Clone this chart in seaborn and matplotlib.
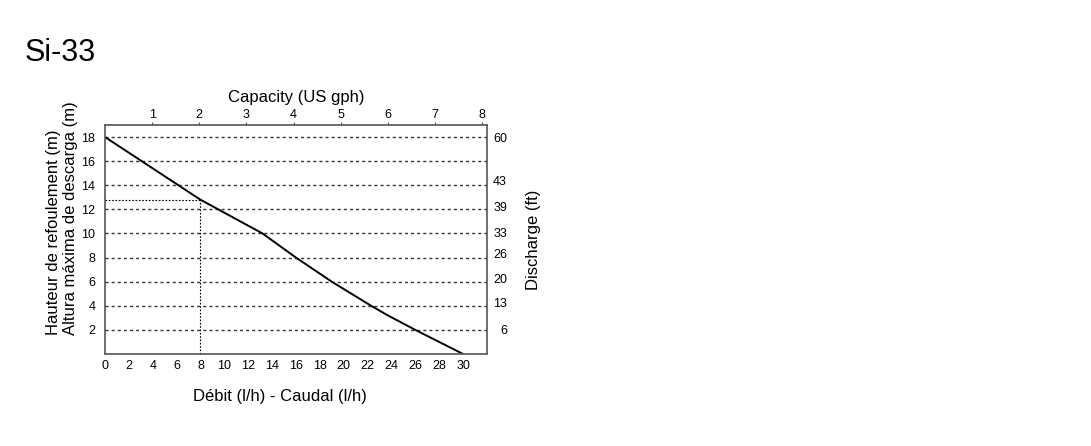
import matplotlib
matplotlib.use("Agg")
import matplotlib.pyplot as plt
import seaborn as sns
import pandas as pd

# valori
debit = [0, 8, 13.2, 16, 19, 22.3, 23.7, 26, 30]          # l/h
inaltime = [18, 12.8, 10, 8, 6, 4, 3.2, 2, 0]             # m
debit_ref = 8
inaltime_ref = 12.8

x_ticks = list(range(0, 31, 2))
y_ticks = list(range(2, 19, 2))
gph_ticks = [1, 2, 3, 4, 5, 6, 7, 8]
lh_per_gph = 3.95
ft_pozitii = [18, 14.4, 12.2, 10.1, 8.3, 6.3, 4.3, 2]
ft_etichete = ["60", "43", "39", "33", "26", "20", "13", "6"]

sns.set_style("white")
plt.rcParams["font.family"] = ["Liberation Sans", "DejaVu Sans"]
plt.rcParams["text.color"] = "black"
plt.rcParams["axes.labelcolor"] = "black"
plt.rcParams["xtick.color"] = "black"
plt.rcParams["ytick.color"] = "black"

t = pd.DataFrame({"debit": debit, "inaltime": inaltime})

fig = plt.figure(figsize=(10.91, 4.46), dpi=100)
ax = fig.add_axes([0.0962, 0.2063, 0.3501, 0.5135])

sns.lineplot(data=t, x="debit", y="inaltime", ax=ax, color="black",
             linewidth=1.4, sort=False)

ax.set_xlim(0, 32)
ax.set_ylim(0, 19)
ax.set_xticks(x_ticks)
ax.set_xticklabels([str(v) for v in x_ticks], fontsize=9)
ax.set_yticks(y_ticks)
ax.set_yticklabels([str(v) for v in y_ticks], fontsize=9)
ax.tick_params(axis="x", length=0, pad=4)
ax.tick_params(axis="y", length=0, pad=7)
ax.set_xlabel("")
ax.set_ylabel("")

# linii de grila punctate
for v in y_ticks:
    ax.axhline(v, color="#333333", linewidth=1.0, linestyle=(0, (2.2, 2.2)),
               zorder=1)

# punct de referinta
ax.plot([0, debit_ref], [inaltime_ref, inaltime_ref], color="black",
        linewidth=0.8, linestyle=(0, (1.5, 1.5)))
ax.plot([debit_ref, debit_ref], [0, inaltime_ref], color="black",
        linewidth=0.8, linestyle=(0, (1.5, 1.5)))

for s in ax.spines.values():
    s.set_visible(True)
    s.set_color("#555555")
    s.set_linewidth(1.2)

# axa de sus (US gph)
sus = ax.secondary_xaxis("top", functions=(lambda x: x / lh_per_gph,
                                           lambda g: g * lh_per_gph))
sus.set_xticks(gph_ticks)
sus.set_xticklabels([str(v) for v in gph_ticks], fontsize=9)
sus.tick_params(length=2, pad=1, color="#555555")
sus.spines["top"].set_visible(False)
sus.set_xlabel("Capacity (US gph)", fontsize=12, labelpad=5)

# axa din dreapta (ft)
dr = ax.twinx()
dr.set_ylim(0, 19)
dr.set_yticks(ft_pozitii)
dr.set_yticklabels(ft_etichete, fontsize=9, ha="right")
dr.tick_params(axis="y", length=0, pad=14.5)
for s in dr.spines.values():
    s.set_visible(False)
dr.set_ylabel("Discharge (ft)", fontsize=12, labelpad=14)

fig.text(25 / 1091, 1 - 53 / 446, "Si-33", fontsize=22, ha="left", va="center")
fig.text(280 / 1091, 1 - 397 / 446, "Débit (l/h) - Caudal (l/h)", fontsize=12,
         ha="center", va="center")
fig.text(62 / 1091, 1 - 335 / 446,
         "Hauteur de refoulement (m)\nAltura máxima de descarga (m)",
         fontsize=12, rotation=90, ha="center", va="bottom",
         multialignment="left", linespacing=1.2)

plt.savefig("out.png", dpi=100)
